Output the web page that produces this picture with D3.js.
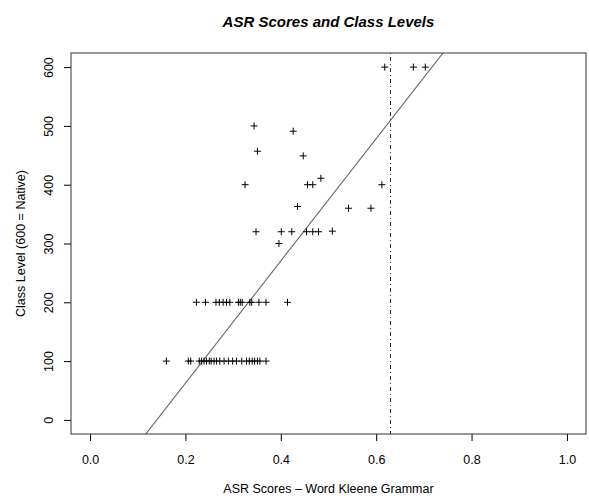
<!DOCTYPE html>
<html>
<head>
<meta charset="utf-8">
<script src="https://cdn.jsdelivr.net/npm/d3@7"></script>
<style>
  body { margin: 0; background: #fff; }
  text { font-family: "Liberation Sans", Arial, Helvetica, sans-serif; }
</style>
</head>
<body>
<div id="chart"></div>
<script>
// ASR score (x) and class level (y) for each learner
const asrScore = [
  // level 100
  0.160, 0.206, 0.211, 0.229, 0.234, 0.239, 0.244, 0.250, 0.254, 0.260, 0.265, 0.272,
  0.281, 0.290, 0.299, 0.307, 0.318, 0.328, 0.334, 0.340, 0.345, 0.351, 0.356, 0.369,
  // level 200
  0.223, 0.242, 0.264, 0.271, 0.279, 0.286, 0.293, 0.311, 0.315, 0.319, 0.335, 0.339,
  0.354, 0.369, 0.414,
  // upper levels
  0.396, 0.348, 0.401, 0.423, 0.454, 0.467, 0.479, 0.508, 0.435, 0.542, 0.589,
  0.325, 0.456, 0.467, 0.484, 0.612, 0.447, 0.351, 0.426, 0.344,
  0.618, 0.678, 0.703
];
const classLevel = [
  100, 100, 100, 100, 100, 100, 100, 100, 100, 100, 100, 100,
  100, 100, 100, 100, 100, 100, 100, 100, 100, 100, 100, 100,
  200, 200, 200, 200, 200, 200, 200, 200, 200, 200, 200, 200,
  200, 200, 200,
  300, 320, 320, 320, 320, 320, 320, 321, 363, 360, 360,
  400, 400, 400, 411, 400, 449, 457, 491, 500,
  600, 600, 600
];

const xTicks = [0, 0.2, 0.4, 0.6, 0.8, 1.0];
const yTicks = [0, 100, 200, 300, 400, 500, 600];

// fitted line and cut-off
const fitIntercept = -145.6;
const fitSlope = 1040;
const cutoff = 0.63;

const W = 589, H = 496;
const box = { left: 71, right: 586, top: 53, bottom: 434 };

const svg = d3.select("#chart").append("svg")
  .attr("width", W)
  .attr("height", H);

const x = d3.scaleLinear().domain([-0.04, 1.04]).range([box.left, box.right]);
const y = d3.scaleLinear().domain([-24, 624]).range([box.bottom, box.top]);

svg.append("defs").append("clipPath").attr("id", "clip")
  .append("rect")
  .attr("x", box.left).attr("y", box.top)
  .attr("width", box.right - box.left).attr("height", box.bottom - box.top);

// title
svg.append("text")
  .attr("x", (box.left + box.right) / 2)
  .attr("y", 27)
  .attr("text-anchor", "middle")
  .style("font-size", "15px")
  .style("font-weight", "bold")
  .style("font-style", "italic")
  .text("ASR Scores and Class Levels");

// x axis
const xAxis = svg.append("g")
  .attr("transform", `translate(0,${box.bottom})`)
  .call(d3.axisBottom(x).tickValues(xTicks).tickFormat(d3.format(".1f")).tickSize(7).tickPadding(14));
xAxis.select(".domain").remove();
xAxis.selectAll("text").style("font-size", "12.5px").attr("fill", "#000");
xAxis.selectAll("line").attr("stroke", "#000");

// y axis with rotated labels
const yAxis = svg.append("g")
  .attr("transform", `translate(${box.left},0)`)
  .call(d3.axisLeft(y).tickValues(yTicks).tickSize(7));
yAxis.select(".domain").remove();
yAxis.selectAll("line").attr("stroke", "#000");
yAxis.selectAll("text")
  .style("font-size", "12.5px")
  .attr("fill", "#000")
  .attr("x", 0).attr("dy", null)
  .attr("text-anchor", "middle")
  .attr("transform", "translate(-18,0) rotate(-90)");

// axis titles
svg.append("text")
  .attr("x", (box.left + box.right) / 2)
  .attr("y", 493)
  .attr("text-anchor", "middle")
  .style("font-size", "12.5px")
  .text("ASR Scores \u2013 Word Kleene Grammar");

svg.append("text")
  .attr("transform", `translate(25,${(box.top + box.bottom) / 2}) rotate(-90)`)
  .attr("text-anchor", "middle")
  .style("font-size", "12.5px")
  .text("Class Level (600 = Native)");

const plot = svg.append("g").attr("clip-path", "url(#clip)");

// regression line
const fitX = [-0.04, 1.04];
plot.append("line")
  .attr("x1", x(fitX[0])).attr("y1", y(fitIntercept + fitSlope * fitX[0]))
  .attr("x2", x(fitX[1])).attr("y2", y(fitIntercept + fitSlope * fitX[1]))
  .attr("stroke", "#666")
  .attr("stroke-width", 1.1);

// cut-off line (dot-dash)
plot.append("line")
  .attr("x1", x(cutoff)).attr("x2", x(cutoff))
  .attr("y1", box.top).attr("y2", box.bottom)
  .attr("stroke", "#333")
  .attr("stroke-width", 1)
  .attr("stroke-dasharray", "1,3,4,3");

// points as plus signs
const pts = asrScore.map((v, i) => ({ s: v, c: classLevel[i] }));
const r = 3.5;
const plus = plot.selectAll("g.pt").data(pts).enter().append("g")
  .attr("class", "pt")
  .attr("transform", d => `translate(${x(d.s)},${y(d.c)})`);
plus.append("line").attr("x1", -r).attr("x2", r).attr("y1", 0).attr("y2", 0)
  .attr("stroke", "#000").attr("stroke-width", 1);
plus.append("line").attr("x1", 0).attr("x2", 0).attr("y1", -r).attr("y2", r)
  .attr("stroke", "#000").attr("stroke-width", 1);

// plot frame
svg.append("rect")
  .attr("x", box.left).attr("y", box.top)
  .attr("width", box.right - box.left).attr("height", box.bottom - box.top)
  .attr("fill", "none")
  .attr("stroke", "#333")
  .attr("stroke-width", 1);
</script>
</body>
</html>
